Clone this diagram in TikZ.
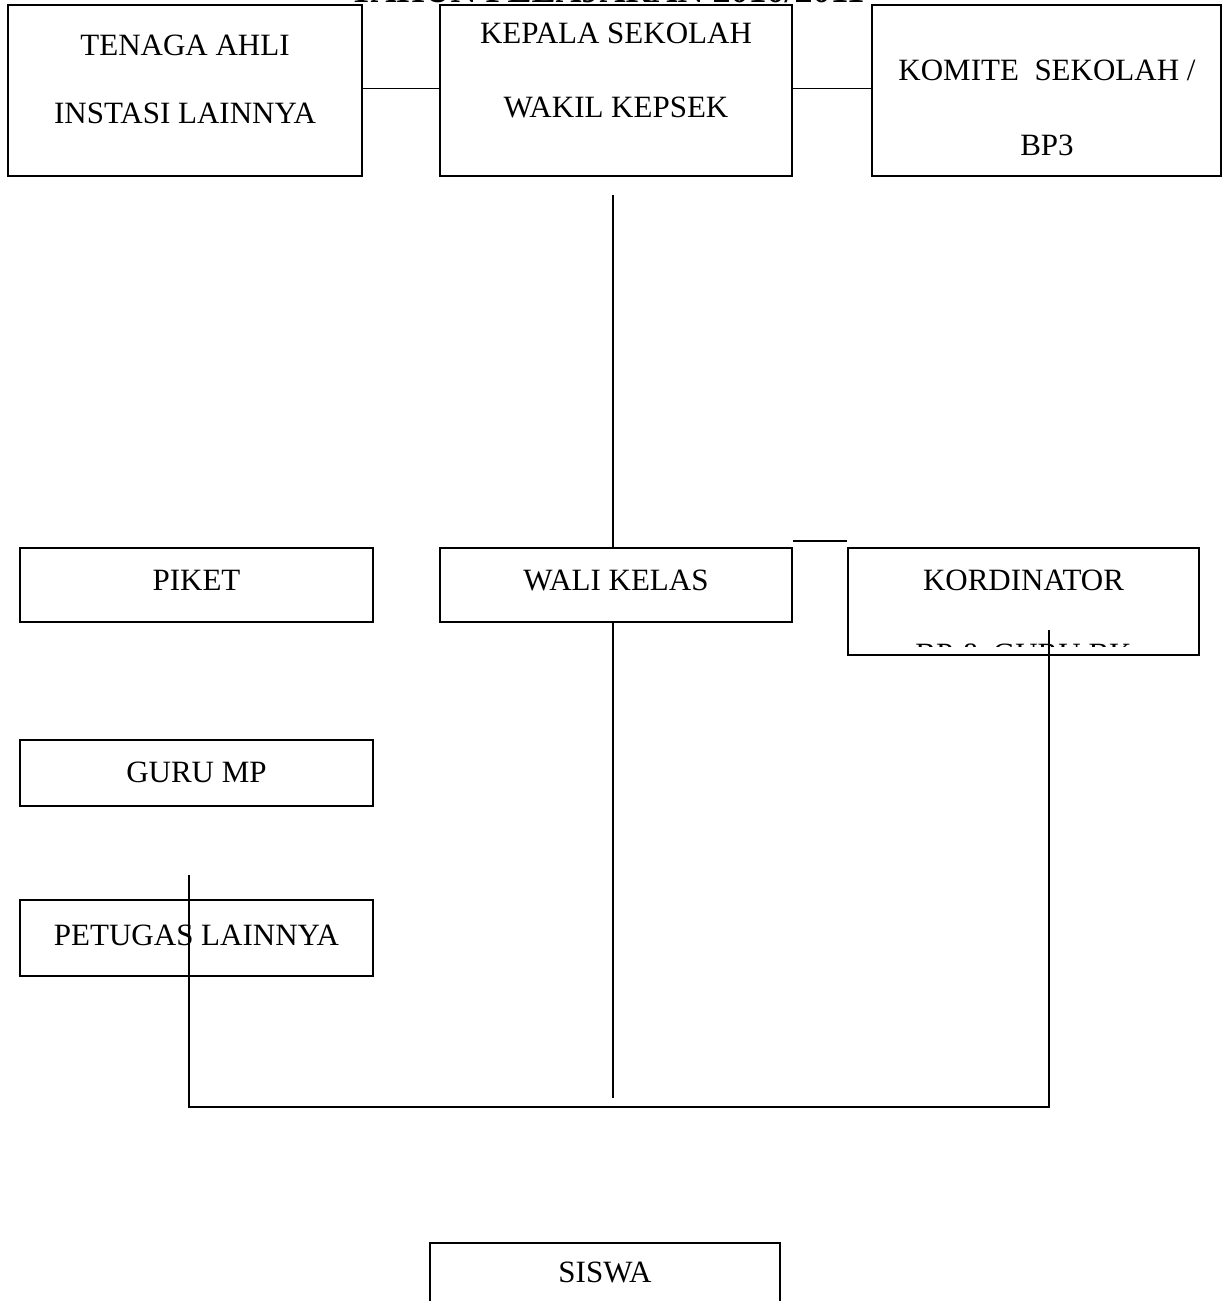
\documentclass[tikz,border=0pt]{standalone}
\usepackage{fontspec}
\setmainfont{Liberation Serif}
\begin{document}
\begin{tikzpicture}[x=1pt,y=-1pt,
  box/.style={draw,line width=1.6pt,rectangle,inner sep=0pt},
  lbl/.style={anchor=base,inner sep=0pt,font=\fontsize{31}{37}\selectfont},
  ln/.style={line width=1.6pt}]
\useasboundingbox (0,0) rectangle (1223,1301);
\clip (0,0) rectangle (1223,1301);
% title (cut off at the top edge, as in the reference)
\node[anchor=base,inner sep=0pt,font=\bfseries\fontsize{36}{40}\selectfont] (title) at (607,2) {TAHUN PELAJARAN 2010/2011};
% boxes
\node[box,minimum width=354pt,minimum height=171pt] (tenaga) at (185,90.5) {};
\node[box,minimum width=352pt,minimum height=171pt] (kepala) at (616,90.5) {};
\node[box,minimum width=349pt,minimum height=171pt] (komite) at (1046.5,90.5) {};
\node[box,minimum width=353pt,minimum height=74pt] (piket) at (196.5,585) {};
\node[box,minimum width=352pt,minimum height=74pt] (wali) at (616,585) {};
\node[box,minimum width=351pt,minimum height=107pt] (kord) at (1023.5,601.5) {};
\node[box,minimum width=353pt,minimum height=66pt] (guru) at (196.5,773) {};
\node[box,minimum width=353pt,minimum height=76pt] (petugas) at (196.5,938) {};
\node[box,minimum width=350pt,minimum height=77pt] (siswa) at (605,1281.5) {};
% labels
\node[lbl] (t1) at (185,55) {TENAGA AHLI};
\node[lbl] (t2) at (185,123) {INSTASI LAINNYA};
\node[lbl] (k1) at (616,43) {KEPALA SEKOLAH};
\node[lbl] (k2) at (616,117) {WAKIL KEPSEK};
\node[lbl] (m1) at (1047,80) {KOMITE\ \ SEKOLAH /};
\node[lbl] (m2) at (1047,155) {BP3};
\node[lbl] (pk) at (196.5,590) {PIKET};
\node[lbl] (wk) at (616,590) {WALI KELAS};
\node[lbl] (kd1) at (1023.5,590) {KORDINATOR};
\begin{scope}
\clip (kord.north west) rectangle ([yshift=9pt]kord.south east);
\node[lbl] (kd2) at (1023.5,664) {BP \& GURU BK};
\end{scope}
\node[lbl] (gm) at (196.5,782) {GURU MP};
\node[lbl] (pl) at (196.5,945) {PETUGAS LAINNYA};
\node[lbl] (sw) at (605,1282) {SISWA};
% connectors
\draw[ln] (tenaga.east) ++(0,-2) -- ([yshift=2pt]kepala.west);
\draw[ln] (kepala.east) ++(0,-2) -- ([yshift=2pt]komite.west);
\coordinate (v1) at (613,195);
\draw[ln] (v1) -- (v1 |- wali.north);
\coordinate (s1) at (793,541);
\draw[ln] (s1) -- (s1 -| kord.west);
\coordinate (v2) at (613,1098);
\draw[ln] (v2 |- wali.south) -- (v2);
\coordinate (kt) at (1049,630);
\coordinate (c2) at (1049,1107);
\coordinate (c1) at (189,1107);
\coordinate (p1) at (189,875);
\draw[ln] (kt) -- (c2) -- (c1) -- (p1);
\end{tikzpicture}
\end{document}
